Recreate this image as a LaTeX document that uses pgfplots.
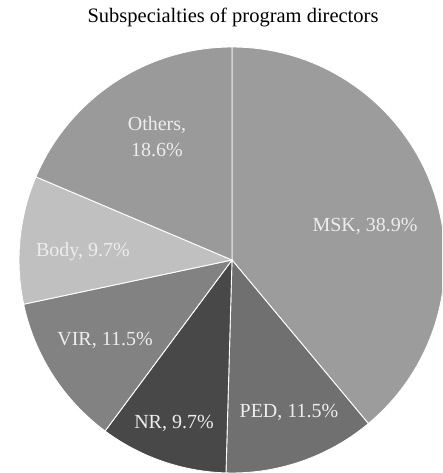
\documentclass[border=0pt]{standalone}
\usepackage{pgfplots}
\pgfplotsset{compat=1.18}
\usepackage{fontspec}
\setmainfont{Liberation Serif}
\definecolor{cMSK}{HTML}{9C9C9C}
\definecolor{cPED}{HTML}{707070}
\definecolor{cNR}{HTML}{484848}
\definecolor{cVIR}{HTML}{828282}
\definecolor{cBody}{HTML}{C0C0C0}
\definecolor{cOth}{HTML}{9A9A9A}
\begin{document}
\begin{tikzpicture}
\def\vMSK{38.9}\def\vPED{11.5}\def\vNR{9.7}\def\vVIR{11.5}\def\vBody{9.7}\def\vOth{18.6}
\pgfmathsetmacro\tot{\vMSK+\vPED+\vNR+\vVIR+\vBody+\vOth}
\pgfmathsetmacro\aA{90}
\pgfmathsetmacro\aB{\aA-360*\vMSK/\tot}
\pgfmathsetmacro\aC{\aB-360*\vPED/\tot}
\pgfmathsetmacro\aD{\aC-360*\vNR/\tot}
\pgfmathsetmacro\aE{\aD-360*\vVIR/\tot}
\pgfmathsetmacro\aF{\aE-360*\vBody/\tot}
\pgfmathsetmacro\aG{\aF-360*\vOth/\tot}
\begin{axis}[name=ax, x=1pt, y=1pt, xmin=0, xmax=442, ymin=0, ymax=473,
  scale only axis, hide axis, clip=true]
\newcommand\slice[3]{\fill[fill=#3, draw=white, line width=0.9pt]
  (axis cs:232,213) -- ++(#1:213pt) arc[start angle=#1, end angle=#2, radius=213pt] -- cycle;}
\slice{\aA}{\aB}{cMSK}
\slice{\aB}{\aC}{cPED}
\slice{\aC}{\aD}{cNR}
\slice{\aD}{\aE}{cVIR}
\slice{\aE}{\aF}{cBody}
\slice{\aF}{\aG}{cOth}
\begin{scope}[font=\fontsize{20}{24}\selectfont, text=white!93!black]
\node[anchor=base] at (axis cs:365,241) {MSK, 38.9\%};
\node[anchor=base] at (axis cs:289,55) {PED, 11.5\%};
\node[anchor=base] at (axis cs:174,44) {NR, 9.7\%};
\node[anchor=base] at (axis cs:105,127) {VIR, 11.5\%};
\node[anchor=base] at (axis cs:83,216) {Body, 9.7\%};
\node[anchor=base] at (axis cs:157,342) {Others,};
\node[anchor=base] at (axis cs:157,316) {18.6\%};
\end{scope}
\node[anchor=base, font=\fontsize{20.5}{24}\selectfont] at (axis cs:233,450) {Subspecialties of program directors};
\end{axis}
\pgfresetboundingbox
\useasboundingbox (ax.south west) rectangle (ax.north east);
\end{tikzpicture}
\end{document}
